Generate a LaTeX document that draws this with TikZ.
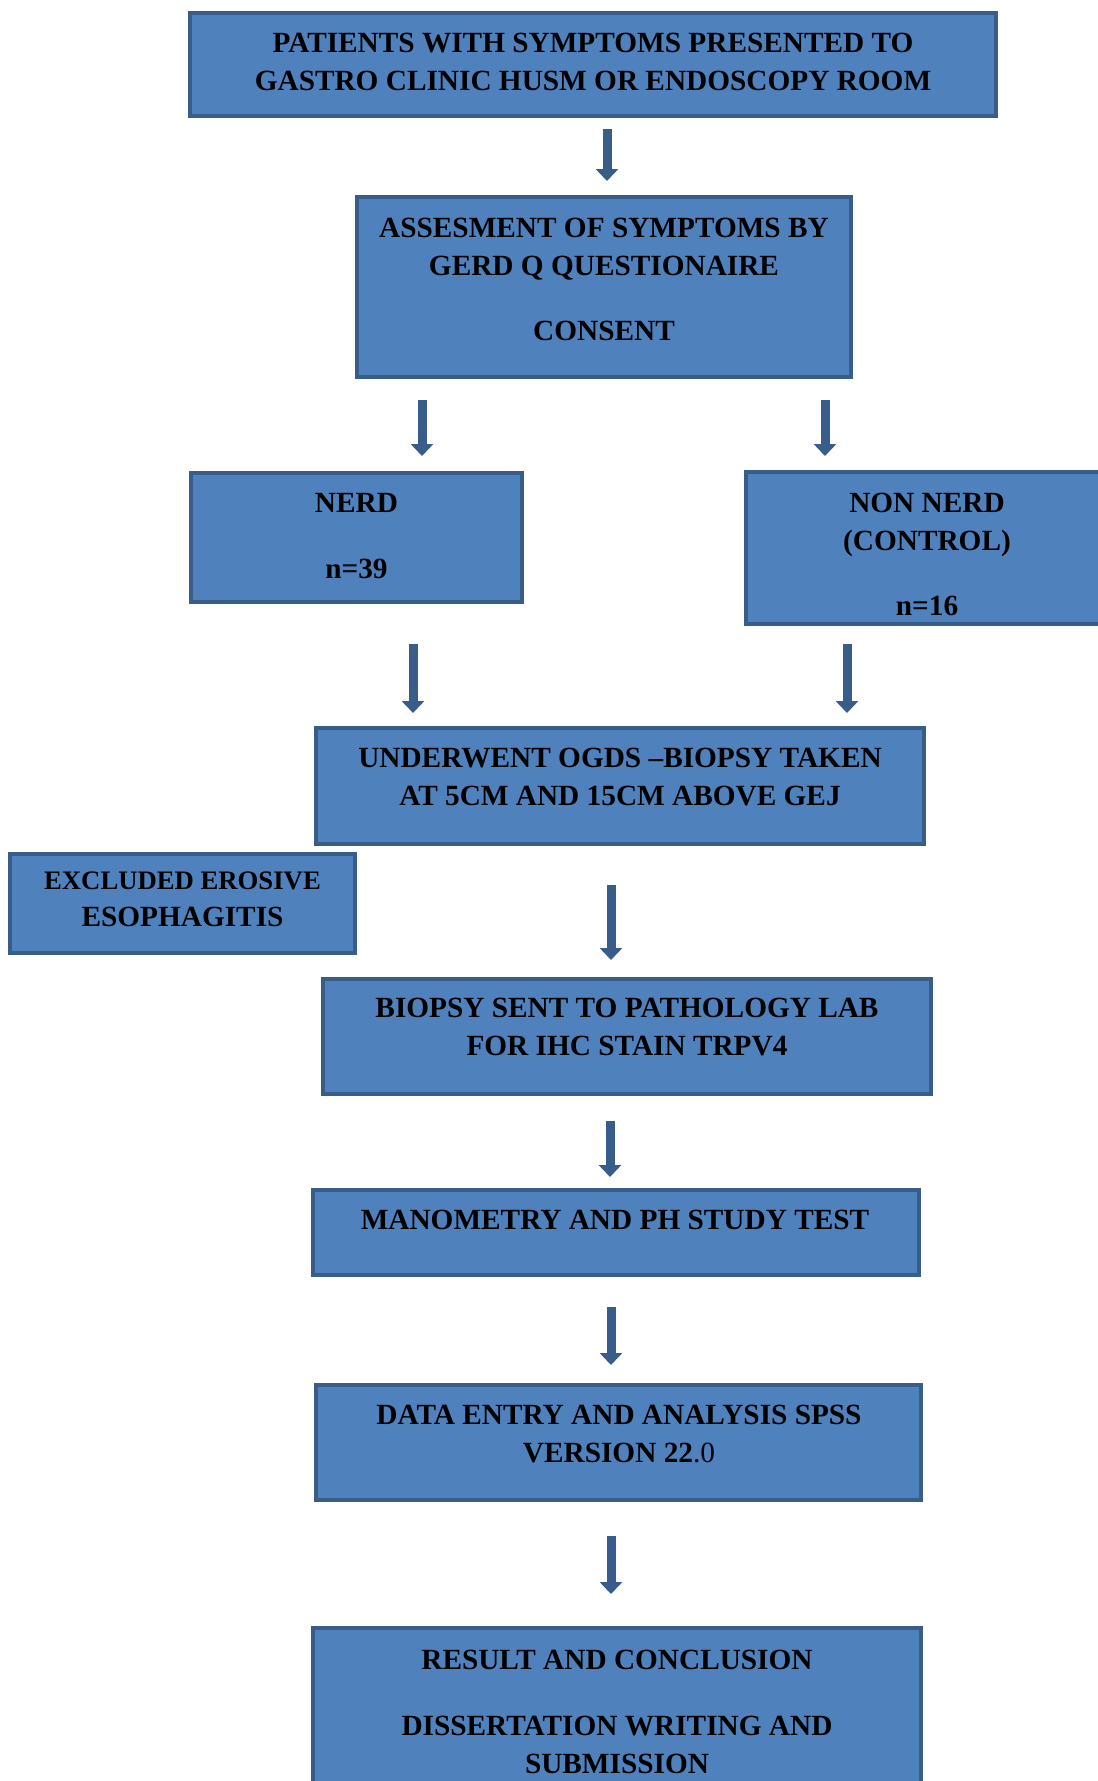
\documentclass[tikz,border=0pt]{standalone}
\usepackage{fontspec}
\setmainfont{Liberation Serif}
\usetikzlibrary{arrows.meta}
\definecolor{boxfill}{HTML}{4F81BD}
\definecolor{boxline}{HTML}{385D8A}
\tikzset{
  box/.style={draw=boxline, fill=boxfill, line width=4pt, rectangle, inner sep=0pt, outer sep=0pt},
  label/.style={align=center, inner sep=0pt, font=\bfseries\fontsize{29.3}{38}\selectfont, text=black},
  flow/.style={draw=boxline, line width=9pt, -{Triangle[width=22pt,length=12pt]}}
}
\begin{document}
\begin{tikzpicture}[x=1pt,y=-1pt]
\useasboundingbox (0,0) rectangle (1098,1781);
\clip (0,0) rectangle (1098,1781);
\fill[white] (0,0) rectangle (1098,1781);
% boxes
\node[box, minimum width=806pt, minimum height=103pt] (b1) at (593,64.5) {};
\node[box, minimum width=494pt, minimum height=180pt] (b2) at (604,287) {};
\node[box, minimum width=331pt, minimum height=129pt] (b3) at (356.5,537.5) {};
\node[box, minimum width=362pt, minimum height=152pt] (b4) at (927,548) {};
\node[box, minimum width=608pt, minimum height=116pt] (b5) at (620,786) {};
\node[box, minimum width=345pt, minimum height=99pt] (b6) at (182.5,903.5) {};
\node[box, minimum width=608pt, minimum height=115pt] (b7) at (627,1036.5) {};
\node[box, minimum width=606pt, minimum height=85pt] (b8) at (616,1232.5) {};
\node[box, minimum width=605pt, minimum height=115pt] (b9) at (618.5,1442.5) {};
\node[box, minimum width=608pt, minimum height=170pt] (b10) at (617,1713) {};
% texts
\node[label] (t1) at (593,61.5) {PATIENTS WITH SYMPTOMS PRESENTED TO\\GASTRO CLINIC HUSM OR ENDOSCOPY ROOM};
\node[label] (t2) at (604,279.5) {ASSESMENT OF SYMPTOMS BY\\GERD Q QUESTIONAIRE\\[27pt]CONSENT};
\node[label] (t3) at (356.5,536.5) {NERD\\[28pt]n=39};
\node[label] (t4) at (927,554) {NON NERD\\(CONTROL)\\[27pt]n=16};
\node[label] (t5) at (620,777) {UNDERWENT OGDS –BIOPSY TAKEN\\AT 5CM AND 15CM ABOVE GEJ};
\node[label] (t6) at (182.5,899.5) {{\fontsize{26.7}{37}\selectfont EXCLUDED EROSIVE}\\[-1pt]ESOPHAGITIS};
\node[label] (t7) at (627,1027) {BIOPSY SENT TO PATHOLOGY LAB\\FOR IHC STAIN TRPV4};
\node[label] (t8) at (615,1219.5) {MANOMETRY AND PH STUDY TEST};
\node[label] (t9) at (619,1434.5) {DATA ENTRY AND ANALYSIS SPSS\\VERSION 22{\mdseries.0}};
\node[label] (t10) at (617,1711.5) {RESULT AND CONCLUSION\\[28pt]DISSERTATION WRITING AND\\SUBMISSION};
% arrow end points
\coordinate (a1s) at (607,129);  \coordinate (a1e) at (607,181);
\coordinate (a2s) at (422,400);  \coordinate (a2e) at (422,456);
\coordinate (a3s) at (825,400);  \coordinate (a3e) at (825,456);
\coordinate (a4s) at (413,644);  \coordinate (a4e) at (413,713);
\coordinate (a5s) at (847,644);  \coordinate (a5e) at (847,713);
\coordinate (a6s) at (611,885);  \coordinate (a6e) at (611,960);
\coordinate (a7s) at (610,1121); \coordinate (a7e) at (610,1177);
\coordinate (a8s) at (611,1307); \coordinate (a8e) at (611,1365);
\coordinate (a9s) at (611,1536); \coordinate (a9e) at (611,1594);
\foreach \i in {1,...,9} {\draw[flow] (a\i s) -- (a\i e);}
\end{tikzpicture}
\end{document}
